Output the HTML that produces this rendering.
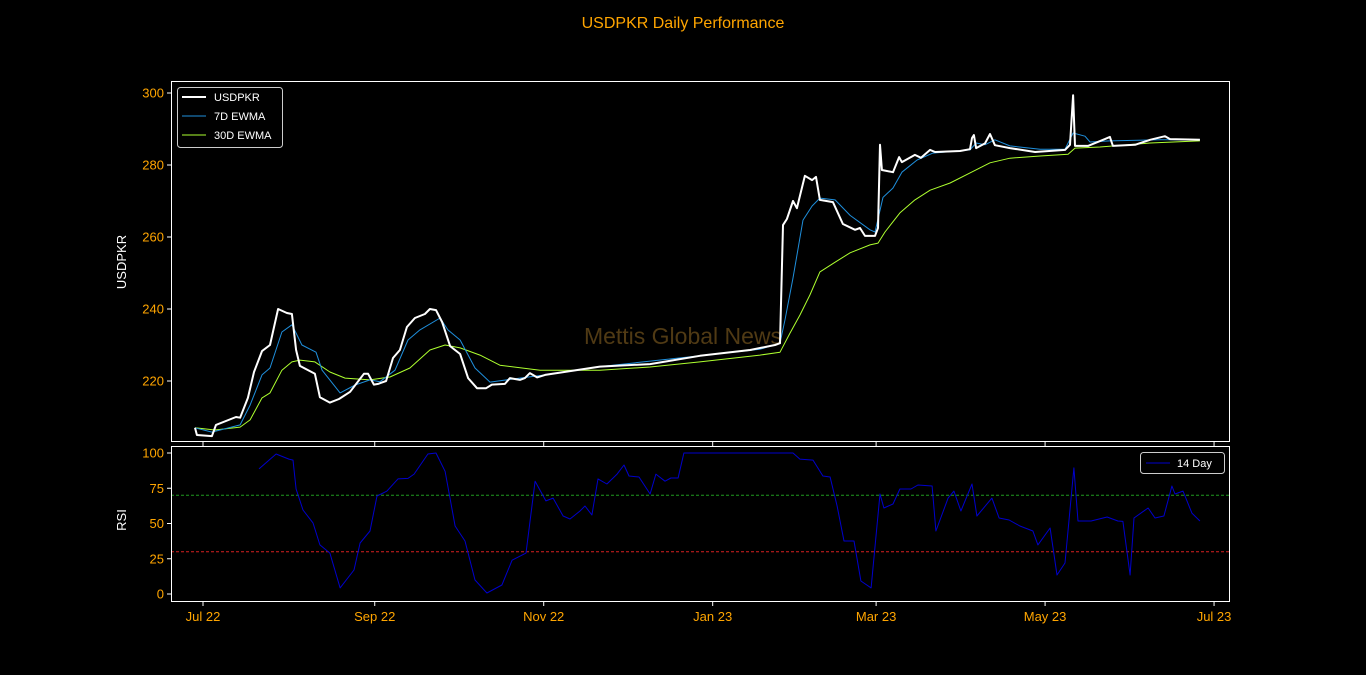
<!DOCTYPE html>
<html><head><meta charset="utf-8"><style>
html,body{margin:0;padding:0;background:#000;}
svg{display:block;font-family:"Liberation Sans","DejaVu Sans",sans-serif;}
</style></head><body>
<svg id="chart" width="1366" height="675" viewBox="0 0 1366 675" xmlns="http://www.w3.org/2000/svg">
<rect x="0" y="0" width="1366" height="675" fill="#000"/>
<text x="683" y="28" fill="#ffa500" font-size="16" text-anchor="middle">USDPKR Daily Performance</text>
<g id="topPanel"></g>
<g id="botPanel"></g>
</svg>
<script>
// days since 2022-07-01
const priceDays=[-2.9,-2.2,3.2,4.7,11.9,13.4,16.2,18.4,21.3,24.2,27.1,30.3,32.1,33.6,35,40.4,42.2,45.8,49.1,53.1,58.1,59.6,61.7,63.2,66.1,68.6,71.1,73.6,76.5,80.1,81.9,84.1,86.3,89.2,92.8,95.7,98.9,102.2,104.3,109,110.8,114.4,116.2,118,120.6,123.5,143.3,161.4,179.4,197.5,206.5,208.3,209.4,210.8,213,214.4,215.5,217.3,219.9,221.3,222.7,227.4,231,235.4,237.2,239,242.6,243.7,244.4,245.1,249.1,251.3,252.3,257,259.2,262.5,264.3,273.3,276.9,277.6,278.3,279.1,282.3,284.1,285.9,291.3,300.4,311.2,313,314.1,314.8,319.5,325.6,327.4,328.5,336.5,341.9,347.3,349.1,359.9];
const priceVals=[207,205,204.7,207.8,210,209.8,215.3,222.5,228.3,230,240,238.9,238.6,228.6,224.2,222,215.5,214,215,217,222,222,219,219.2,220,226.4,228.6,235,237.5,238.6,240,239.7,236.4,229.7,227.5,220.8,218,218,219,219.2,220.8,220.3,220.8,222.2,221,221.7,224,224.7,227,228.6,230,230.5,263.3,265,270,268,271.4,277,275.8,276.7,270.3,269.7,263.6,262,262.5,260.3,260.3,262.5,285.6,278.6,278,282.2,280.8,282.8,282,284.2,283.6,283.9,284.4,287.5,288.3,284.7,286,288.6,285.5,284.7,283.6,284.2,285.6,299.4,285.3,285.3,287.2,287.8,285.3,285.6,287,288,287.2,287];
const ew7Days=[-2.9,3.2,13.4,17,21.3,24.2,28.5,32.1,33.6,35.7,40.8,43,49.5,54.9,60.3,63.9,69.3,74,78.3,85.6,88.4,92.8,98.2,103.6,114.4,123.5,143.3,179.4,201.1,208.3,210.1,213,216.6,219.9,222.7,228.2,233.6,240.8,242.6,245.5,249.1,252.3,257.8,263.5,276.9,279.1,282.3,285.9,291.3,302.2,311.2,314.1,318.4,320.2,327.4,345.5,359.9];
const ew7Vals=[207,205.8,207.8,213.3,221.7,223.6,233.6,235.6,233.3,230,228,223,216.7,218.9,220.3,219.8,223,231.4,234.2,237.5,234.2,231.4,223.6,219.7,220.8,221.7,224,227,228.8,230.5,237,248.6,264.7,268.6,270.8,270.3,266,262,261.4,271,273.6,278,281.4,283.3,284.2,286.1,285.6,287,285.3,284.4,284.4,288.9,288,286.4,286.7,287,287];
const ew30Days=[-2.9,4.3,13.4,17,21.3,24.2,28.5,32.1,35,40.4,45.8,51.3,60.3,67.5,74.7,81.9,87.4,92.8,100,107.2,121.7,143.3,161.4,179.4,201.1,208.3,211.9,215.5,219.1,222.7,228.2,233.6,240.8,243.7,246.2,251.6,257,262.5,269.7,276.9,284.1,291.3,302.2,312.3,314.8,323.8,341.9,359.9];
const ew30Vals=[207,206.4,207.2,209.2,215.3,216.7,223,225.3,225.8,225.3,222.5,220.8,220.3,221.1,223.6,228.6,230,229.2,227.2,224.4,223,223,223.9,225.3,227.2,228,233.3,238.3,243.9,250.3,253,255.6,257.8,258.3,261.4,266.7,270.3,273,275,277.8,280.6,281.9,282.5,283,284.7,285,286.1,286.7];
const rsiDays=[20.2,26.4,31,32.5,33.6,36.1,39.7,42.2,45.8,49.5,54.5,56.7,60.3,62.8,66.4,70.4,74,76.2,81.2,84.1,87.4,91,94.6,98.2,102.5,107.9,111.6,116.6,119.9,123.8,126.4,130,132.5,136.1,137.9,140.4,142.6,145.8,149.5,152,153.8,157.4,161.4,163.5,166.8,168.9,171.5,173.6,213,215.5,220.2,223.8,226.4,228.9,231.4,235,237.5,241.2,244.4,245.8,249.1,251.6,255.6,258.1,263.2,264.6,269,271.1,273.6,277.6,279.4,284.8,287.4,291,294.9,299.6,301.4,305.8,308.3,311.2,314.4,315.9,320.6,326.4,330.3,332.1,334.7,336.1,341.2,343.7,346.9,349.8,350.9,353.8,357,359.9];
const rsiVals=[88.7,99.3,95.7,95,74.5,59.6,50.4,34.8,29,4.3,17,36.2,44.7,69.5,73,81.6,82,85,99.3,100,87,48.2,37.6,9.9,0.7,6.4,24,29,80,66,68,55.3,53.2,58.9,62.4,56,81.6,78,85,91.5,83.7,83,70.9,85,80,82.3,82.3,100,100,95.7,95,83.7,83,62.4,37.6,37.6,9.2,4.3,70.9,61,63.8,74.5,74.5,77.3,76.6,44.7,68,73,58.9,78,55.3,68,53.9,52.5,48.2,44.7,34.8,46.8,13.5,22,89.4,51.8,51.8,54.6,51.8,51.5,13.5,53.9,61,53.9,55.3,76.6,70.9,73,57.4,51.8];
const xTickDays=[0,62,123,184,243,304,365];
const xTickLabels=["Jul 22","Sep 22","Nov 22","Jan 23","Mar 23","May 23","Jul 23"];
const topTicks=[220,240,260,280,300];
const botTicks=[0,25,50,75,100];

const NS="http://www.w3.org/2000/svg";
const X0=171,X1=1229;
const xS=d=>203+d*2.77;
const yT=v=>93+(300-v)*3.6;
const yB=v=>594-v*1.41;
function mk(tag,attrs,parent,txt){const e=document.createElementNS(NS,tag);for(const k in attrs)e.setAttribute(k,attrs[k]);if(txt!==undefined)e.textContent=txt;parent.appendChild(e);return e;}
const gTop=document.getElementById('topPanel'),gBot=document.getElementById('botPanel');

const wm=mk('text',{x:683,y:344,fill:'#503a14','font-size':23,'text-anchor':'middle'},gTop,'Mettis Global News');



function line(days,vals,ys,color,w,parent,name){
  const d=days.map((t,i)=>(i?'L':'M')+xS(t).toFixed(1)+','+ys(vals[i]).toFixed(1)).join('');
  const p=mk('path',{d:d,fill:'none',stroke:color,'stroke-width':w,'stroke-linejoin':'round'},parent);
  
  
}
line(ew30Days,ew30Vals,yT,'#adff2f',1,gTop,'ewma-30d-line');
line(ew7Days,ew7Vals,yT,'#1f8fdc',1,gTop,'ewma-7d-line');
line(priceDays,priceVals,yT,'#ffffff',2,gTop,'usdpkr-line');

const h70=mk('line',{x1:X0,x2:X1,y1:yB(70),y2:yB(70),stroke:'#1f9a1f','stroke-width':1,'stroke-dasharray':'3,2'},gBot);


const h30=mk('line',{x1:X0,x2:X1,y1:yB(30),y2:yB(30),stroke:'#d62020','stroke-width':1,'stroke-dasharray':'3,2'},gBot);


line(rsiDays,rsiVals,yB,'#0000cc',1,gBot,'rsi-line');

const f1=mk('rect',{x:X0+0.5,y:81.5,width:X1-X0,height:360,fill:'none',stroke:'#fff','stroke-width':1},gTop);


const f2=mk('rect',{x:X0+0.5,y:446.5,width:X1-X0,height:155,fill:'none',stroke:'#fff','stroke-width':1},gBot);



topTicks.forEach(v=>{
  const y=yT(v);
  const t=mk('line',{x1:X0-4,x2:X0,y1:y,y2:y,stroke:'#fff'},gTop);
  
  
  const l=mk('text',{x:X0-7,y:y+4.5,fill:'#ffa500','font-size':13,'text-anchor':'end'},gTop,String(v));
  
  
});
botTicks.forEach(v=>{
  const y=yB(v);
  const t=mk('line',{x1:X0-4,x2:X0,y1:y,y2:y,stroke:'#fff'},gBot);
  
  
  const l=mk('text',{x:X0-7,y:y+4.5,fill:'#ffa500','font-size':13,'text-anchor':'end'},gBot,String(v));
  
  
});
xTickDays.forEach((d,i)=>{
  const x=xS(d);
  const t1=mk('line',{x1:x,x2:x,y1:442,y2:446,stroke:'#fff'},gTop);
  
  
  const t2=mk('line',{x1:x,x2:x,y1:602,y2:606,stroke:'#fff'},gBot);
  
  
  const l=mk('text',{x:x,y:621,fill:'#ffa500','font-size':13,'text-anchor':'middle'},gBot,xTickLabels[i]);
  
  
});
const yt1=mk('text',{x:126,y:262,fill:'#fff','font-size':13,'text-anchor':'middle',transform:'rotate(-90 126 262)'},gTop,'USDPKR');


const yt2=mk('text',{x:126,y:520,fill:'#fff','font-size':13,'text-anchor':'middle',transform:'rotate(-90 126 520)'},gBot,'RSI');



const lg=mk('g',{},gTop);


mk('rect',{x:177.5,y:87.5,width:105,height:60,rx:3,fill:'#000',stroke:'#ccc','stroke-width':1},lg);
[['USDPKR','#fff',2],['7D EWMA','#1f8fdc',1],['30D EWMA','#adff2f',1]].forEach((e,i)=>{
  const y=97+i*19;
  const g=mk('g',{},lg);
  
  
  mk('line',{x1:182,x2:206,y1:y,y2:y,stroke:e[1],'stroke-width':e[2]},g);
  mk('text',{x:214,y:y+4,fill:'#fff','font-size':11},g,e[0]);
});
const lg2=mk('g',{},gBot);


mk('rect',{x:1140.5,y:452.5,width:84,height:21,rx:3,fill:'#000',stroke:'#ccc','stroke-width':1},lg2);
mk('line',{x1:1146,x2:1170,y1:463,y2:463,stroke:'#0000cc','stroke-width':1},lg2);
mk('text',{x:1177,y:467,fill:'#fff','font-size':11},lg2,'14 Day');
</script>
</body></html>
